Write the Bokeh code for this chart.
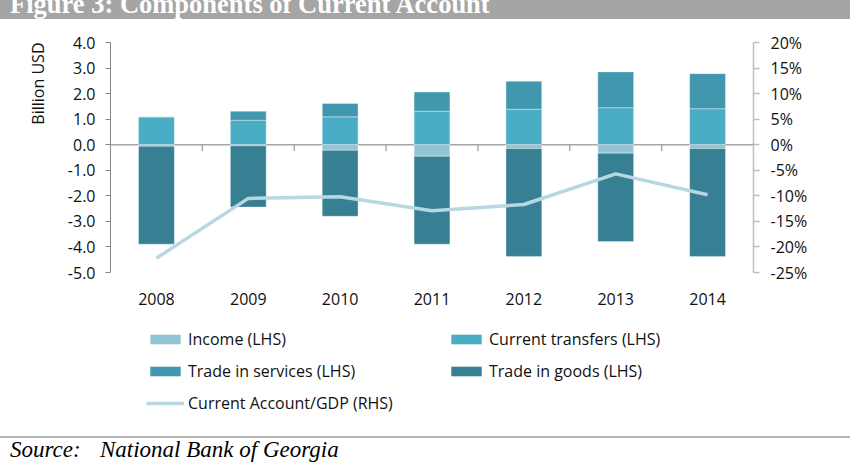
import numpy as np
from bokeh.plotting import figure
from bokeh.layouts import column
from bokeh.models import (Range1d, LinearAxis, FixedTicker, PrintfTickFormatter, Span,
                          Legend, LegendItem, Title, Div)
from bokeh.embed import file_html
from bokeh.resources import INLINE

# ---------------- data ----------------
years = ["2008", "2009", "2010", "2011", "2012", "2013", "2014"]
income = [-0.06, -0.04, -0.22, -0.45, -0.15, -0.33, -0.15]        # Billion USD
transfers = [1.09, 0.96, 1.09, 1.31, 1.39, 1.45, 1.41]
services = [0.00, 0.35, 0.52, 0.75, 1.09, 1.40, 1.37]
goods = [-3.83, -2.40, -2.58, -3.44, -4.22, -3.46, -4.22]
ca_gdp = [-22.2, -10.5, -10.2, -12.9, -11.7, -5.7, -9.8]          # % of GDP
left_ticks = [-5, -4, -3, -2, -1, 0, 1, 2, 3, 4]
right_ticks = [-25, -20, -15, -10, -5, 0, 5, 10, 15, 20]
series_names = ["Income (LHS)", "Current transfers (LHS)", "Trade in services (LHS)",
                "Trade in goods (LHS)", "Current Account/GDP (RHS)"]

title_text = "Figure 3: Components of Current Account"
source_label = "Source:"
source_name = "National Bank of Georgia"

C_INCOME = "#93c4d5"
C_TRANSF = "#4bacc6"
C_SERV = "#4197ae"
C_GOODS = "#377f93"
C_LINE = "#b7d7e1"
FONT = "Open Sans"
TXT = "#111111"

n = len(years)
xc = np.arange(n) + 0.5
inc = np.array(income)
tr = np.array(transfers)
sv = np.array(services)
gd = np.array(goods)

# ---------------- banner ----------------
banner = Div(width=850, height=19, margin=0, text=(
    '<div style="position:relative;width:850px;height:19px;background:#a5a5a5;overflow:hidden;">'
    '<span style="position:absolute;left:10px;top:-9px;white-space:nowrap;line-height:1;'
    "font-family:'Liberation Serif',serif;font-weight:bold;font-size:26.5px;color:#ffffff;\">"
    + title_text + '</span></div>'))

# ---------------- chart ----------------
p = figure(frame_width=643, frame_height=230,
           min_border_left=110, min_border_right=97,
           min_border_top=23, min_border_bottom=43,
           x_range=Range1d(0, n), y_range=Range1d(left_ticks[0], left_ticks[-1]),
           output_backend="svg", toolbar_location=None,
           outline_line_color=None, background_fill_color="white",
           border_fill_color="white", margin=0)
p.xgrid.visible = False
p.ygrid.visible = False
p.extra_y_ranges = {"pct": Range1d(right_ticks[0], right_ticks[-1])}

p.add_layout(Span(location=0, dimension="width", line_color="#a6a6a6",
                  line_width=1.5, level="underlay"))
bounds = np.arange(1, n)
p.segment(x0=bounds, y0=0, x1=bounds, y1=-0.26, line_color="#a0a0a0", line_width=1.3)

bw = 0.39
edge = dict(line_color="white", line_alpha=0.35, line_width=1)
p.vbar(x=xc, bottom=0, top=tr, width=bw, fill_color=C_TRANSF, **edge)
p.vbar(x=xc, bottom=tr, top=tr + sv, width=bw, fill_color=C_SERV, **edge)
p.vbar(x=xc, bottom=inc, top=0, width=bw, fill_color=C_INCOME, **edge)
p.vbar(x=xc, bottom=inc + gd, top=inc, width=bw, fill_color=C_GOODS, **edge)
p.line(x=xc, y=ca_gdp, y_range_name="pct", line_color=C_LINE, line_width=3.5)

xa = p.xaxis[0]
xa.ticker = FixedTicker(ticks=list(xc))
xa.major_label_overrides = {float(x): y for x, y in zip(xc, years)}
xa.axis_line_color = None
xa.major_tick_line_color = None
xa.minor_tick_line_color = None
xa.major_label_standoff = 14
xa.major_label_text_font = FONT
xa.major_label_text_font_size = "16px"
xa.major_label_text_color = TXT

ya = p.yaxis[0]
ya.ticker = FixedTicker(ticks=left_ticks)
ya.formatter = PrintfTickFormatter(format="%.1f")
ya.axis_line_color = "#868686"
ya.major_tick_line_color = "#868686"
ya.major_tick_in = 0
ya.major_tick_out = 5
ya.minor_tick_line_color = None
ya.major_label_standoff = 10
ya.major_label_text_font = FONT
ya.major_label_text_font_size = "16px"
ya.major_label_text_color = TXT

ra = LinearAxis(y_range_name="pct", ticker=FixedTicker(ticks=right_ticks),
                formatter=PrintfTickFormatter(format="%d%%"))
ra.axis_line_color = "#bfbfbf"
ra.axis_line_width = 1.5
ra.major_tick_line_color = "#bfbfbf"
ra.major_tick_line_width = 1.5
ra.major_tick_in = 0
ra.major_tick_out = 6
ra.minor_tick_line_color = None
ra.major_label_standoff = 11
ra.major_label_text_font = FONT
ra.major_label_text_font_size = "16px"
ra.major_label_text_color = TXT
p.add_layout(ra, "right")

p.add_layout(Title(text="Billion USD", align="right", standoff=32,
                   text_font=FONT, text_font_size="16px", text_font_style="normal",
                   text_color=TXT), "left")

# ---------------- legend (own panel) ----------------
pl = figure(frame_width=850, frame_height=121, min_border=0,
            x_range=Range1d(0, 1), y_range=Range1d(0, 1),
            output_backend="svg", toolbar_location=None,
            x_axis_location=None, y_axis_location=None,
            outline_line_color=None, background_fill_color="white",
            border_fill_color="white", margin=0)
pl.xgrid.visible = False
pl.ygrid.visible = False
# keys: one point each, placed outside the visible range so only the legend shows them
kx, ky = [-10.0], [-10.0]
g_inc = pl.vbar(x=kx, top=ky, width=0.1, fill_color=C_INCOME, line_color=None)
g_tr = pl.vbar(x=kx, top=ky, width=0.1, fill_color=C_TRANSF, line_color=None)
g_sv = pl.vbar(x=kx, top=ky, width=0.1, fill_color=C_SERV, line_color=None)
g_gd = pl.vbar(x=kx, top=ky, width=0.1, fill_color=C_GOODS, line_color=None)
g_ln = pl.line(x=kx * 2, y=ky * 2, line_color=C_LINE, line_width=3.5)
items = [LegendItem(label=lbl, renderers=[g])
         for lbl, g in zip(series_names, [g_inc, g_tr, g_sv, g_gd, g_ln])]
legend = Legend(items=items, location=(146, 22), orientation="horizontal", ncols=2,
                glyph_width=38, glyph_height=12, label_standoff=4, label_width=249,
                label_height=20, spacing=10, padding=0, margin=0,
                border_line_color=None, background_fill_alpha=0,
                label_text_font=FONT, label_text_font_size="16px",
                label_text_color=TXT, label_text_baseline="middle")
pl.add_layout(legend)

# ---------------- source ----------------
source = Div(width=850, height=26, margin=0, text=(
    '<div style="position:relative;width:850px;height:26px;overflow:hidden;background:#ffffff;">'
    '<div style="position:absolute;left:0;top:0;width:850px;height:2px;background:#b4b4b4;"></div>'
    "<span style=\"position:absolute;left:10px;top:2px;white-space:nowrap;line-height:1;"
    "font-family:'Liberation Serif',serif;font-style:italic;font-size:23px;color:#000;\">"
    + source_label + '</span>'
    "<span style=\"position:absolute;left:100px;top:2px;white-space:nowrap;line-height:1;"
    "font-family:'Liberation Serif',serif;font-style:italic;font-size:23px;color:#000;\">"
    + source_name + '</span></div>'))

layout = column(banner, p, pl, source, spacing=0, margin=0)
open("out.html", "w").write(file_html(layout, INLINE))
